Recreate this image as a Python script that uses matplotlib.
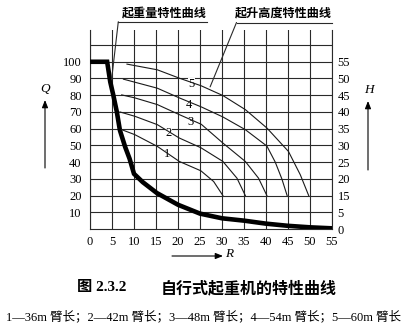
import numpy as np
import matplotlib
matplotlib.use("Agg")
import matplotlib.pyplot as plt
from matplotlib.patches import ConnectionPatch

# ---------------- data ----------------
R_ticks = [0, 5, 10, 15, 20, 25, 30, 35, 40, 45, 50, 55]
Q_ticks = [10, 20, 30, 40, 50, 60, 70, 80, 90, 100]
H_ticks = [0, 5, 15, 20, 25, 30, 35, 40, 45, 50, 55]

# lifting capacity curve (Q vs R)
load_R = [0, 3.9, 4.6, 5.3, 6.1, 6.8, 8.0, 9.0, 10.0, 12.0, 15.2, 20.0, 25.0, 30.0, 35.0, 40.0, 45.0, 50.0, 55.0]
load_Q = [100, 100, 88, 80, 70, 59, 49, 42, 33, 28, 21.5, 14.5, 9.2, 6.4, 5.0, 3.2, 1.9, 1.0, 0.4]

# lifting height curves (H vs R) for boom lengths 36/42/48/54/60 m
h1_R = [7.2, 10.2, 15.3, 20.3, 25.2, 28.1, 30.2]
h1_H = [34.7, 33.2, 29.7, 25.2, 22.4, 19.2, 15.0]
h2_R = [6.8, 10.2, 15.3, 20.3, 25.2, 30.2, 33.4, 35.3]
h2_H = [40.0, 38.7, 36.2, 32.2, 29.3, 25.2, 20.2, 15.0]
h3_R = [7.2, 10.2, 15.3, 20.3, 25.3, 30.2, 35.3, 38.3, 40.2]
h3_H = [45.1, 44.2, 42.2, 39.2, 36.3, 30.7, 25.2, 20.2, 15.0]
h4_R = [7.6, 15.3, 20.3, 25.3, 30.2, 35.3, 40.2, 42.1, 43.6, 44.8]
h4_H = [49.8, 47.1, 44.2, 41.5, 38.5, 34.7, 29.8, 25.0, 20.0, 15.0]
h5_R = [8.4, 15.3, 20.3, 25.3, 30.2, 35.3, 40.2, 45.1, 47.8, 49.7]
h5_H = [54.3, 52.6, 50.1, 47.8, 44.9, 40.7, 35.2, 28.2, 21.2, 15.0]
curve_names = ["1", "2", "3", "4", "5"]

title_load = "起重量特性曲线"
title_height = "起升高度特性曲线"
caption_num = "图 2.3.2"
caption_txt = "自行式起重机的特性曲线"
legend_text = "1—36m 臂长；2—42m 臂长；3—48m 臂长；4—54m 臂长；5—60m 臂长"

# ---------------- figure ----------------
W, Hpx = 412, 324
fig = plt.figure(figsize=(W / 100, Hpx / 100), dpi=100)
fig.patch.set_facecolor("white")

def fx(px):
    return px / W

def fy(py):
    return 1 - py / Hpx

ax = fig.add_axes([fx(90), fy(229), (332 - 90) / W, (229 - 30) / Hpx])
ax.set_xlim(0, 55)
ax.set_ylim(0, 119)

serif = ["Liberation Serif", "DejaVu Serif"]
cjk = ["Noto Sans CJK SC", "DejaVu Sans"]
mixed = ["Liberation Serif", "Noto Sans CJK SC"]
gcol = "#2a2a2a"

ax.set_xticks(R_ticks)
ax.set_xticklabels([str(v) for v in R_ticks], family=serif, fontsize=9)
ax.set_yticks(Q_ticks + [110])
ax.set_yticklabels([str(v) for v in Q_ticks] + [""], family=serif, fontsize=9)
ax.tick_params(axis="both", length=0, colors="black")
ax.tick_params(axis="x", pad=5)
ax.tick_params(axis="y", pad=6)
ax.grid(True, color=gcol, linewidth=0.8)
for s in ["left", "right", "bottom"]:
    ax.spines[s].set_color(gcol)
    ax.spines[s].set_linewidth(0.8)
ax.spines["top"].set_visible(False)

ax.plot(load_R, load_Q, color="black", linewidth=3.3, solid_joinstyle="miter",
        solid_capstyle="butt", zorder=5)

# secondary H axis with the book's non-uniform tick spacing
Hk = [0, 5, 15, 20, 25, 30, 35, 40, 45, 50, 55, 60, 65]
Pk = [0, 10, 20, 30, 40, 50, 60, 70, 80, 90, 100, 110, 120]

def h_fwd(h):
    return np.interp(h, Hk, Pk)

def h_inv(p):
    return np.interp(p, Pk, Hk)

ax2 = ax.twinx()
ax2.set_yscale("function", functions=(h_fwd, h_inv))
ax2.set_ylim(0, float(h_inv(119)))
ax2.set_yticks(H_ticks)
ax2.set_yticklabels([str(v) for v in H_ticks], family=serif, fontsize=9)
ax2.tick_params(axis="y", length=0, pad=4)
for s in ax2.spines.values():
    s.set_visible(False)

curves = [(h1_R, h1_H), (h2_R, h2_H), (h3_R, h3_H), (h4_R, h4_H), (h5_R, h5_H)]
for r, h in curves:
    ax2.plot(r, h, color="#1a1a1a", linewidth=0.8, zorder=4)

label_pos = [(17.6, 44.7), (17.8, 57.3), (22.9, 63.7), (22.4, 74.3), (23.1, 86.6)]
for name, (lr, lq) in zip(curve_names, label_pos):
    ax.text(lr, lq, name, family=serif, fontsize=9, ha="center", va="center",
            zorder=6, bbox=dict(facecolor="white", edgecolor="none", pad=0.3))

# titles with leader lines
fig.text(fx(164), fy(13.5), title_load, family=cjk, fontsize=8.7, weight="bold",
         ha="center", va="center")
fig.text(fx(283), fy(13.5), title_height, family=cjk, fontsize=8.7, weight="bold",
         ha="center", va="center")
fig.add_artist(plt.Line2D([fx(118.3), fx(206.7)], [fy(21.7), fy(21.7)],
                          color=gcol, linewidth=0.8))
fig.add_artist(plt.Line2D([fx(236.5), fx(331.7)], [fy(22.5), fy(22.5)],
                          color=gcol, linewidth=0.8))
con1 = ConnectionPatch(xyA=(fx(118.3), fy(21.7)), coordsA="figure fraction",
                       xyB=(4.9, 89.2), coordsB="data", axesB=ax,
                       color=gcol, linewidth=0.8)
fig.add_artist(con1)
con2 = ConnectionPatch(xyA=(fx(236.5), fy(22.5)), coordsA="figure fraction",
                       xyB=(27.3, 85.0), coordsB="data", axesB=ax,
                       color=gcol, linewidth=0.8)
fig.add_artist(con2)

# axis labels with arrows
arrow_kw = dict(arrowstyle="-|>,head_length=0.45,head_width=0.18", color="black",
                linewidth=0.8, shrinkA=0, shrinkB=0)
fig.text(fx(45), fy(89), "Q", family=serif, style="italic", fontsize=9.5,
         ha="center", va="center")
ax.annotate("", xy=(fx(45), fy(100)), xytext=(fx(45), fy(168)),
            xycoords="figure fraction", textcoords="figure fraction",
            arrowprops=arrow_kw, annotation_clip=False)
fig.text(fx(369), fy(90), "H", family=serif, style="italic", fontsize=9.5,
         ha="center", va="center")
ax.annotate("", xy=(fx(368), fy(101)), xytext=(fx(368), fy(170)),
            xycoords="figure fraction", textcoords="figure fraction",
            arrowprops=arrow_kw, annotation_clip=False)
fig.text(fx(229), fy(254), "R", family=serif, style="italic", fontsize=9.5,
         ha="center", va="center")
ax.annotate("", xy=(fx(223), fy(256)), xytext=(fx(172), fy(256)),
            xycoords="figure fraction", textcoords="figure fraction",
            arrowprops=arrow_kw, annotation_clip=False)

# captions
fig.text(fx(77), fy(288), caption_num, family=mixed, fontsize=11, weight="bold",
         ha="left", va="center")
fig.text(fx(337), fy(288), caption_txt, family=cjk, fontsize=11.5, weight="bold",
         ha="right", va="center")
fig.text(fx(203), fy(316.5), legend_text, family=mixed, fontsize=9,
         ha="center", va="center")

fig.savefig("out.png", dpi=100, facecolor="white")
